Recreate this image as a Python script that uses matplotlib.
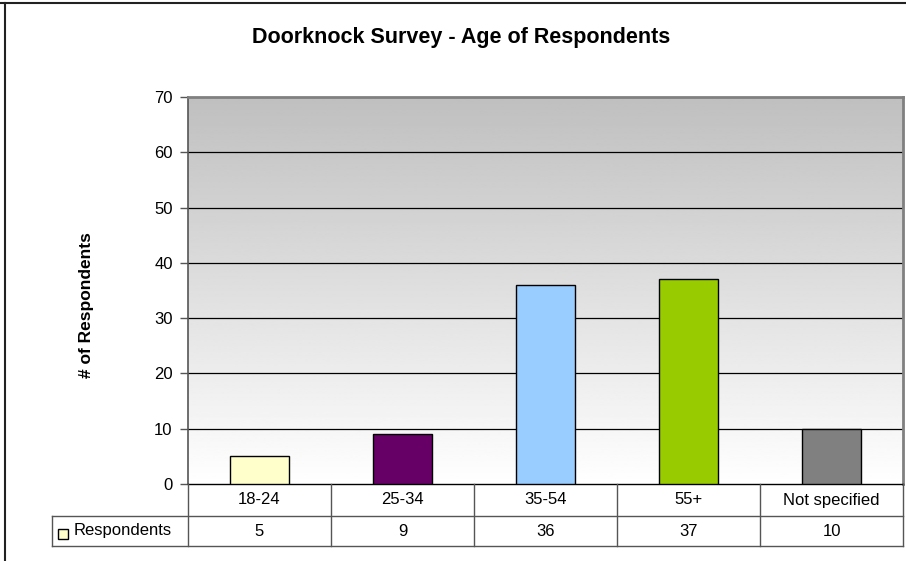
import numpy as np
import matplotlib.pyplot as plt
from matplotlib.patches import Rectangle
from matplotlib.lines import Line2D
import matplotlib.transforms as mtransforms

plt.rcParams['font.family'] = ['Liberation Sans', 'DejaVu Sans']

# data
categories = ["18-24", "25-34", "35-54", "55+", "Not specified"]
respondents = [5, 9, 36, 37, 10]
bar_colors = ["#FFFFCC", "#660066", "#99CCFF", "#99CC00", "#808080"]
series_name = "Respondents"
yticks = [0, 10, 20, 30, 40, 50, 60, 70]

W, H = 906, 561
fig = plt.figure(figsize=(W / 100, H / 100), dpi=100)


def fx(px):
    return px / W


def fy(py):
    return 1 - py / H


# plot area in pixel coordinates
left, right, top, bottom = 188, 903, 97, 484
ax = fig.add_axes([fx(left), fy(bottom), fx(right - left), (bottom - top) / H])

n = len(categories)
x = np.arange(n)
ax.set_xlim(-0.5, n - 0.5)

# grey (top) to white (bottom) gradient background
grad = np.linspace(0.75, 1.0, 256).reshape(-1, 1)
ax.imshow(grad, cmap="gray", vmin=0, vmax=1, aspect="auto", origin="upper",
          extent=[-0.5, n - 0.5, 0, 70], zorder=0, interpolation="bilinear")
ax.set_ylim(0, 70)

for yv in yticks[1:-1]:
    ax.axhline(yv, color="black", linewidth=0.9, zorder=1)

ax.bar(x, respondents, width=0.41, color=bar_colors, edgecolor="black",
       linewidth=1.0, zorder=3)

ax.set_yticks(yticks)
ax.set_xticks([])
ax.tick_params(axis="y", length=6, width=1, color="#555555", pad=5,
               labelsize=12, labelcolor="black")
for side in ["top", "right"]:
    ax.spines[side].set_color("#808080")
    ax.spines[side].set_linewidth(2)
ax.spines["left"].set_color("#555555")
ax.spines["left"].set_linewidth(1.2)
ax.spines["bottom"].set_color("black")
ax.spines["bottom"].set_linewidth(1.0)

# data table below the plot
trans = mtransforms.blended_transform_factory(ax.transData, fig.transFigure)
row1_bot, row2_bot = 516, 546
lc = "#555555"
for b in np.arange(-0.5, n, 1.0):
    fig.add_artist(Line2D([b, b], [fy(bottom), fy(row2_bot)], transform=trans,
                          color=lc, linewidth=1.0))
for yy in (row1_bot, row2_bot):
    fig.add_artist(Line2D([fx(52), fx(right)], [fy(yy), fy(yy)],
                          transform=fig.transFigure, color=lc, linewidth=1.0))
fig.add_artist(Line2D([fx(52), fx(52)], [fy(row1_bot), fy(row2_bot)],
                      transform=fig.transFigure, color=lc, linewidth=1.0))

for xi, cat, val in zip(x, categories, respondents):
    fig.text(xi, fy((bottom + row1_bot) / 2), cat, transform=trans,
             ha="center", va="center", fontsize=12)
    fig.text(xi, fy((row1_bot + row2_bot) / 2), str(val), transform=trans,
             ha="center", va="center", fontsize=12)

# legend key in the table header
fig.add_artist(Rectangle((fx(58), fy(539)), fx(10), 10 / H,
                         transform=fig.transFigure, facecolor=bar_colors[0],
                         edgecolor="black", linewidth=1.0))
fig.text(fx(74), fy((row1_bot + row2_bot) / 2), series_name,
         ha="left", va="center", fontsize=12)

# titles
fig.text(fx(461), fy(37), "Doorknock Survey - Age of Respondents",
         ha="center", va="center", fontsize=15.5, fontweight="bold")
fig.text(fx(86), fy(305), "# of Respondents", rotation=90,
         ha="center", va="center", fontsize=12.5, fontweight="bold")

# outer chart border
fig.add_artist(Line2D([0, 1], [fy(3), fy(3)], transform=fig.transFigure,
                      color="#222222", linewidth=1.5))
fig.add_artist(Line2D([fx(5), fx(5)], [fy(3), 0], transform=fig.transFigure,
                      color="#222222", linewidth=1.5))

fig.savefig("out.png", dpi=100)
